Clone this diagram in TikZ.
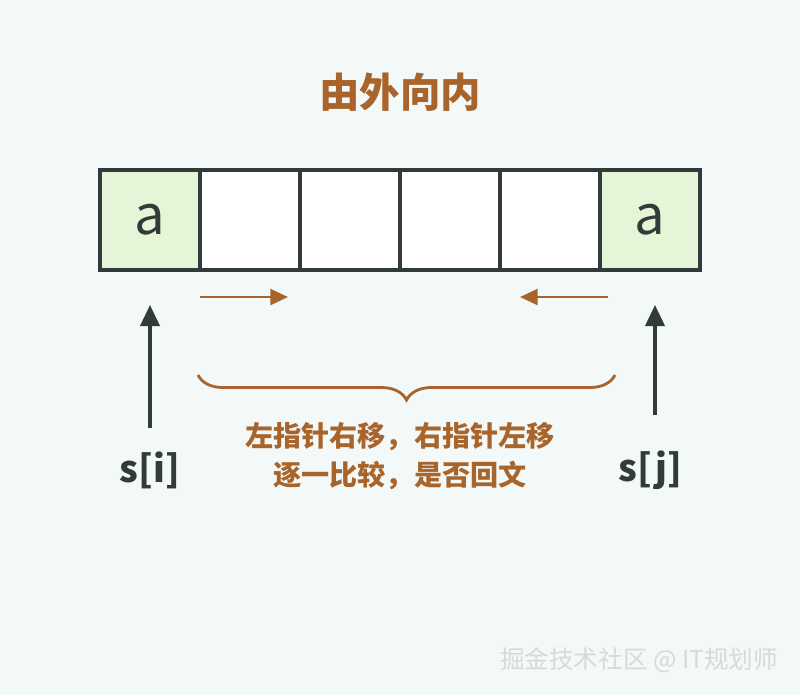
\documentclass[tikz,border=0pt]{standalone}
\usepackage{fontspec}
\setmainfont{Noto Sans CJK SC}
\usetikzlibrary{positioning,arrows.meta,decorations.pathreplacing}
\definecolor{bgc}{HTML}{F3F9F8}
\definecolor{brownc}{HTML}{A8642A}
\definecolor{darkc}{HTML}{333A3A}
\definecolor{greenc}{HTML}{E4F5D8}
\tikzset{
  cell/.style={draw=darkc,line width=2.2pt,fill=white,minimum size=2cm,inner sep=0pt,outer sep=0pt,
    font=\fontsize{31}{33}\selectfont,text=darkc},
  hit/.style={cell,fill=greenc},
  move/.style={-{Triangle[length=10pt,width=9pt]},brownc,line width=1.6pt},
  ptr/.style={-{Triangle[length=12pt,width=11pt]},darkc,line width=1.8pt},
}
\begin{document}
\begin{tikzpicture}
  \fill[bgc] (0,0) rectangle (16,-13.9);
  \useasboundingbox (0,0) rectangle (16,-13.9);
  \node[font=\bfseries\fontsize{23}{25}\selectfont,text=brownc] (title) at (8,-1.84) {由外向内};
  \node[hit] (c1) at (3,-4.4) {a};
  \foreach \i [count=\j from 1] in {2,...,5}
    \node[cell,right=0pt of c\j] (c\i) {};
  \node[hit,right=0pt of c5] (c6) {a};
  % pointer arrows
  \coordinate (l1) at (4,-5.94);
  \coordinate (l2) at (5.76,-5.94);
  \coordinate (r1) at (12.16,-5.94);
  \coordinate (r2) at (10.4,-5.94);
  \draw[move] (l1) -- (l2);
  \draw[move] (r1) -- (r2);
  \node[font=\bfseries\fontsize{21}{23}\selectfont,text=darkc] (si) at (3,-9.4) {s[i]};
  \node[font=\bfseries\fontsize{21}{23}\selectfont,text=darkc] (sj) at (13,-9.4) {s[j]};
  \draw[ptr] (3,-8.56) -- (3,-6.1);
  \draw[ptr] (13.1,-8.3) -- (13.1,-6.1);
  \coordinate (b1) at (3.96,-7.5);
  \coordinate (b2) at (12.3,-7.5);
  \draw[brownc,line width=1.6pt,decoration={brace,mirror,amplitude=0.5cm},decorate] (b1) -- (b2);
  \node[font=\bfseries\fontsize{16}{22}\selectfont,text=brownc,align=center] (note) at (8,-9.12)
    {左指针右移，右指针左移\\逐一比较，是否回文};
  \node[font=\fontsize{14}{16}\selectfont,text=white!70!gray] (mark) at (12.78,-13.2) {掘金技术社区 @ IT规划师};
\end{tikzpicture}
\end{document}
